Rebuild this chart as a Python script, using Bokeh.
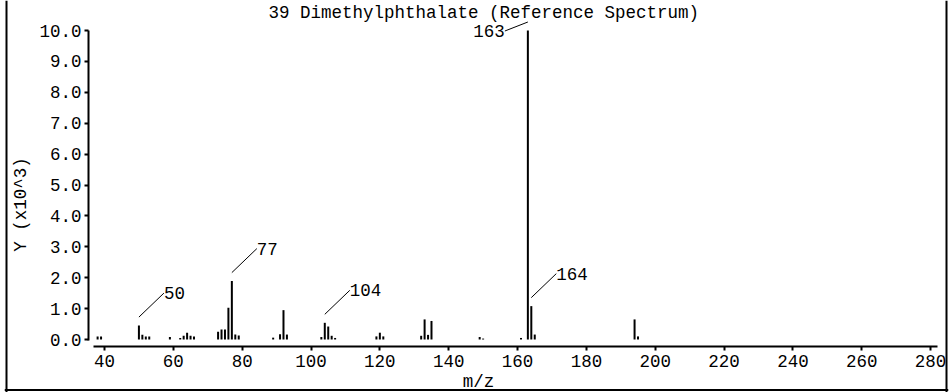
import math
from bokeh.plotting import figure
from bokeh.models import (Range1d, FixedTicker, PrintfTickFormatter, Label, Span,
                          ColumnDataSource)
from bokeh.core.properties import value
from bokeh.embed import file_html
from bokeh.resources import INLINE

# ---------------- data ----------------
title_text = "39 Dimethylphthalate (Reference Spectrum)"
x_label = "m/z"
y_label = "Y (x10^3)"

mz = [38, 39, 50, 51, 52, 53, 59, 62, 63, 64, 65, 66, 73, 74, 75, 76, 77, 78, 79,
      89, 91, 92, 93, 103, 104, 105, 106, 107, 119, 120, 121, 132, 133, 134, 135,
      149, 150, 161, 163, 164, 165, 194, 195]
intensity = [0.10, 0.10, 0.45, 0.15, 0.10, 0.10, 0.08, 0.05, 0.12, 0.22, 0.12, 0.10,
             0.25, 0.32, 0.32, 1.03, 1.89, 0.16, 0.13, 0.06, 0.17, 0.95, 0.16, 0.08,
             0.54, 0.42, 0.12, 0.05, 0.10, 0.22, 0.10, 0.12, 0.65, 0.15, 0.60, 0.08,
             0.03, 0.05, 10.0, 1.08, 0.16, 0.65, 0.10]
labeled_peaks = [50, 77, 104, 163, 164]
x_ticks = [40, 60, 80, 100, 120, 140, 160, 180, 200, 220, 240, 260, 280]
y_ticks = [0, 1, 2, 3, 4, 5, 6, 7, 8, 9, 10]

# ---------------- layout (pixels on the canvas) ----------------
W, H = 950, 392
FL, FR, FT, FB = 4, 948, 0, 392    # frame edges in canvas px
PX_X = 3.442                       # px per m/z unit
PX_Y = 30.9                        # px per 1.0 (x10^3)
X0_PX, Y0_PX = 104, 339            # canvas px of m/z=40 and y=0

def cx(px):  # canvas px -> data x
    return 40 + (px - X0_PX) / PX_X

def cy(py):  # canvas px -> data y
    return (Y0_PX - py) / PX_Y

FONT = "Liberation Mono"
FS = "17.5px"

p = figure(width=W, height=H, output_backend="svg", toolbar_location=None,
           x_range=Range1d(cx(FL), cx(FR)),
           y_range=Range1d(cy(FB), cy(FT)),
           min_border_left=FL, min_border_right=W - FR,
           min_border_top=FT, min_border_bottom=H - FB,
           background_fill_color="white", border_fill_color="white")
p.outline_line_color = None
p.xgrid.visible = False
p.ygrid.visible = False

# axes (placed inside the frame)
for ax in (p.xaxis[0], p.yaxis[0]):
    ax.axis_line_width = 2
    ax.axis_line_color = "black"
    ax.major_tick_line_width = 2
    ax.major_tick_line_color = "black"
    ax.major_tick_out = 4
    ax.major_tick_in = 0
    ax.minor_tick_line_color = None
    ax.major_label_text_font = FONT
    ax.major_label_text_font_size = FS
    ax.major_label_text_color = "black"

p.xaxis[0].ticker = FixedTicker(ticks=x_ticks)
p.xaxis[0].fixed_location = cy(346)
p.xaxis[0].bounds = (cx(93), cx(937))
p.xaxis[0].major_label_standoff = 4
p.yaxis[0].ticker = FixedTicker(ticks=y_ticks)
p.yaxis[0].formatter = PrintfTickFormatter(format="%.1f")
p.yaxis[0].fixed_location = cx(88)
p.yaxis[0].bounds = (-0.03, 10)
p.yaxis[0].major_label_standoff = 3

# bars
src = ColumnDataSource(dict(x=mz, top=intensity, base=[0] * len(mz)))
p.segment(x0="x", y0="base", x1="x", y1="top", source=src,
          line_color="black", line_width=2)

# peak annotations
GAP = 8.5 / PX_Y
lx0, ly0, lx1, ly1 = [], [], [], []
lab_l = {"x": [], "y": [], "text": []}
lab_r = {"x": [], "y": [], "text": []}
for m in labeled_peaks:
    h = intensity[mz.index(m)]
    x0, y0 = m, h + GAP
    if h >= 9.5:
        x1, y1 = m - 23 / PX_X, y0 - 9 / PX_Y
        tgt = lab_r
    else:
        x1, y1 = m + 25 / PX_X, y0 + 24 / PX_Y
        tgt = lab_l
    tgt["x"].append(x1); tgt["y"].append(y1); tgt["text"].append(str(m))
    lx0.append(x0); ly0.append(y0); lx1.append(x1); ly1.append(y1)

p.segment(x0=lx0, y0=ly0, x1=lx1, y1=ly1, line_color="black", line_width=1)
p.text(x="x", y="y", text="text", source=ColumnDataSource(lab_l),
       text_font=value(FONT), text_font_size=FS, text_align="left",
       text_baseline="middle", text_color="black")
p.text(x="x", y="y", text="text", source=ColumnDataSource(lab_r),
       text_font=value(FONT), text_font_size=FS, text_align="right",
       text_baseline="middle", text_color="black")

# title and axis labels (inside the frame)
p.add_layout(Label(x=cx(268), y=cy(12), text=title_text, text_font=FONT,
                   text_font_size=FS, text_align="left", text_baseline="middle",
                   text_color="black"))
p.add_layout(Label(x=cx(478), y=cy(381), text=x_label, text_font=FONT,
                   text_font_size=FS, text_align="center", text_baseline="middle",
                   text_color="black"))
p.add_layout(Label(x=cx(20), y=cy(204), text=y_label, text_font=FONT,
                   text_font_size=FS, text_align="center", text_baseline="middle",
                   angle=math.pi / 2, text_color="black"))

# outer border (left, right, bottom)
for loc, dim in ((cx(6), "height"), (cx(946), "height"), (cy(389.5), "width")):
    p.add_layout(Span(location=loc, dimension=dim, line_color="black", line_width=2))

open("out.html", "w").write(file_html(p, INLINE))
